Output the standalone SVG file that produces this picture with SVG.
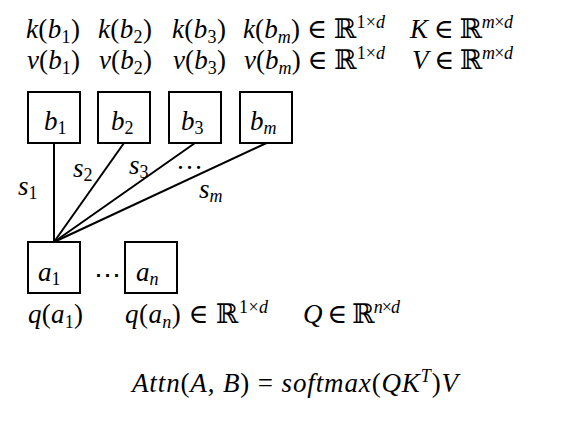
<svg xmlns="http://www.w3.org/2000/svg" width="569" height="425" viewBox="0 0 569 425">
<style>
.t{font-family:"Liberation Serif","DejaVu Serif",serif;font-size:27px;fill:#000}
.i{font-style:italic}
.s{font-size:18px}
.box{fill:#fff;stroke:#000;stroke-width:2}
.ln{stroke:#000;stroke-width:2;fill:none}
</style>
<rect width="569" height="425" fill="#fff"/>
<g id="vectors" class="t">
<text x="26" y="38" textLength="54" lengthAdjust="spacing"><tspan class="i">k</tspan>(<tspan class="i">b</tspan><tspan class="s" dy="5">1</tspan><tspan dy="-5">)</tspan></text>
<text x="98" y="38" textLength="54" lengthAdjust="spacing"><tspan class="i">k</tspan>(<tspan class="i">b</tspan><tspan class="s" dy="5">2</tspan><tspan dy="-5">)</tspan></text>
<text x="172" y="38" textLength="54" lengthAdjust="spacing"><tspan class="i">k</tspan>(<tspan class="i">b</tspan><tspan class="s" dy="5">3</tspan><tspan dy="-5">)</tspan></text>
<text x="243" y="38" textLength="142" lengthAdjust="spacing"><tspan class="i">k</tspan>(<tspan class="i">b</tspan><tspan class="s i" dy="5">m</tspan><tspan dy="-5">) ∈ ℝ</tspan><tspan class="s" dy="-10">1×</tspan><tspan class="s i">d</tspan></text>
<text x="410" y="38" textLength="103" lengthAdjust="spacing"><tspan class="i">K</tspan> ∈ ℝ<tspan class="s i" dy="-10">m</tspan><tspan class="s">×</tspan><tspan class="s i">d</tspan></text>
<text x="27" y="69" textLength="53" lengthAdjust="spacing"><tspan class="i">v</tspan>(<tspan class="i">b</tspan><tspan class="s" dy="5">1</tspan><tspan dy="-5">)</tspan></text>
<text x="99" y="69" textLength="53" lengthAdjust="spacing"><tspan class="i">v</tspan>(<tspan class="i">b</tspan><tspan class="s" dy="5">2</tspan><tspan dy="-5">)</tspan></text>
<text x="173" y="69" textLength="53" lengthAdjust="spacing"><tspan class="i">v</tspan>(<tspan class="i">b</tspan><tspan class="s" dy="5">3</tspan><tspan dy="-5">)</tspan></text>
<text x="244" y="69" textLength="141" lengthAdjust="spacing"><tspan class="i">v</tspan>(<tspan class="i">b</tspan><tspan class="s i" dy="5">m</tspan><tspan dy="-5">) ∈ ℝ</tspan><tspan class="s" dy="-10">1×</tspan><tspan class="s i">d</tspan></text>
<text x="412" y="69" textLength="101" lengthAdjust="spacing"><tspan class="i">V</tspan> ∈ ℝ<tspan class="s i" dy="-10">m</tspan><tspan class="s">×</tspan><tspan class="s i">d</tspan></text>
</g>
<g id="connectors" class="ln">
<line x1="54" y1="143" x2="54" y2="242"/>
<line x1="124" y1="143" x2="54" y2="242"/>
<line x1="195" y1="143" x2="54" y2="242"/>
<line x1="266.5" y1="143" x2="54" y2="242"/>
</g>
<g id="scores" class="t">
<text x="18" y="195"><tspan class="i">s</tspan><tspan class="s" dy="4">1</tspan></text>
<text x="73" y="177"><tspan class="i">s</tspan><tspan class="s" dy="4">2</tspan></text>
<text x="129" y="174"><tspan class="i">s</tspan><tspan class="s" dy="4">3</tspan></text>
<text x="176" y="169">…</text>
<text x="199" y="198"><tspan class="i">s</tspan><tspan class="s i" dy="4">m</tspan></text>
</g>
<g id="b1"><rect class="box" x="28" y="92" width="52" height="51"/><text class="t" x="44" y="130"><tspan class="i">b</tspan><tspan class="s" dy="4">1</tspan></text></g>
<g id="b2"><rect class="box" x="98" y="92" width="52" height="51"/><text class="t" x="111" y="130"><tspan class="i">b</tspan><tspan class="s" dy="4">2</tspan></text></g>
<g id="b3"><rect class="box" x="169" y="92" width="52" height="51"/><text class="t" x="181" y="130"><tspan class="i">b</tspan><tspan class="s" dy="4">3</tspan></text></g>
<g id="bm"><rect class="box" x="240" y="92" width="52" height="51"/><text class="t" x="250" y="130"><tspan class="i">b</tspan><tspan class="s i" dy="4">m</tspan></text></g>
<g id="a1"><rect class="box" x="28" y="242" width="52" height="51"/><text class="t" x="38" y="281"><tspan class="i">a</tspan><tspan class="s" dy="4">1</tspan></text></g>
<text class="t" x="94" y="284">⋯</text>
<g id="an"><rect class="box" x="125" y="242" width="52" height="51"/><text class="t" x="136" y="281"><tspan class="i">a</tspan><tspan class="s i" dy="4">n</tspan></text></g>
<g id="queries" class="t">
<text x="28" y="323" textLength="55" lengthAdjust="spacing"><tspan class="i">q</tspan>(<tspan class="i">a</tspan><tspan class="s" dy="5">1</tspan><tspan dy="-5">)</tspan></text>
<text x="125" y="323" textLength="143" lengthAdjust="spacing"><tspan class="i">q</tspan>(<tspan class="i">a</tspan><tspan class="s i" dy="5">n</tspan><tspan dy="-5">) ∈ ℝ</tspan><tspan class="s" dy="-10">1×</tspan><tspan class="s i">d</tspan></text>
<text x="303" y="323" textLength="97" lengthAdjust="spacing"><tspan class="i">Q</tspan> ∈ ℝ<tspan class="s i" dy="-10">n</tspan><tspan class="s">×</tspan><tspan class="s i">d</tspan></text>
</g>
<text id="formula" class="t" x="132" y="392" textLength="326" lengthAdjust="spacing"><tspan class="i">Attn</tspan>(<tspan class="i">A</tspan>, <tspan class="i">B</tspan>) = <tspan class="i">softmax</tspan>(<tspan class="i">QK</tspan><tspan class="s i" dy="-10">T</tspan><tspan dy="10">)</tspan><tspan class="i">V</tspan></text>
</svg>
